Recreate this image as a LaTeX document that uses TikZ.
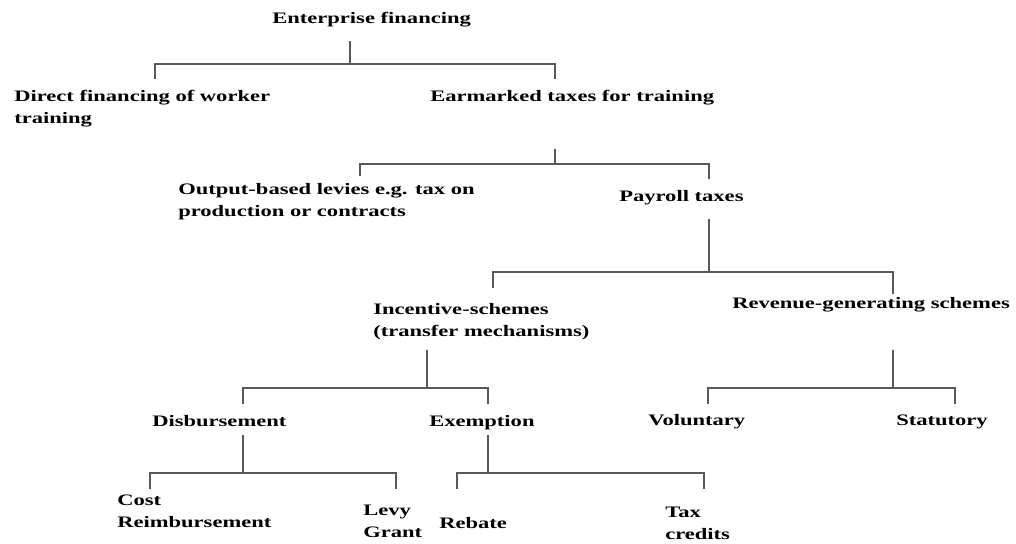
\documentclass[tikz,border=0pt]{standalone}
\usepackage{fontspec}
\setmainfont{Liberation Serif}[FakeStretch=1.41]
\usetikzlibrary{calc}

\begin{document}
\begin{tikzpicture}[x=0.75pt, y=-0.75pt,
	txt/.style={anchor=base west, inner sep=0pt, align=left, font=\fontsize{12}{16.5}\selectfont\bfseries},
	branch/.style={draw=black!65, line width=0.9pt}]
	
	\useasboundingbox (0,0) rectangle (1016,543);
	
	% texts (base = last line)
	\node[txt] (ef) at (272,23) {Enterprise financing};
	\node[txt] (df) at (14,123) {Direct financing of worker\\training};
	\node[txt] (et) at (430,101) {Earmarked taxes for training};
	\node[txt] (ob) at (178,216) {Output-based levies e.g. tax on\\production or contracts};
	\node[txt] (pt) at (619,201) {Payroll taxes};
	\node[txt] (is) at (373,336) {Incentive-schemes\\(transfer mechanisms)};
	\node[txt] (rg) at (732,308) {Revenue-generating schemes};
	\node[txt] (db) at (152,426) {Disbursement};
	\node[txt] (ex) at (429,426) {Exemption};
	\node[txt] (vo) at (648,425) {Voluntary};
	\node[txt] (st) at (896,425) {Statutory};
	\node[txt] (cr) at (117,527) {Cost\\Reimbursement};
	\node[txt] (lg) at (363,537) {Levy\\Grant};
	\node[txt] (rb) at (439,528) {Rebate};
	\node[txt] (tc) at (665,539) {Tax\\credits};
	
	% stem tops and bar middles
	\coordinate (ef-s) at (350,41);  \coordinate (ef-b) at (350,64);
	\coordinate (et-s) at (555,149); \coordinate (et-b) at (555,164);
	\coordinate (pt-s) at (709,219); \coordinate (pt-b) at (709,272);
	\coordinate (is-s) at (427,350); \coordinate (is-b) at (427,388);
	\coordinate (rg-s) at (893,350); \coordinate (rg-b) at (893,388);
	\coordinate (db-s) at (243,435); \coordinate (db-b) at (243,473);
	\coordinate (ex-s) at (488,435); \coordinate (ex-b) at (488,473);
	
	% drop ends
	\coordinate (df-d) at (155,79);  \coordinate (et-d) at (555,79);
	\coordinate (ob-d) at (360,176); \coordinate (pt-d) at (709,179);
	\coordinate (is-d) at (493,288); \coordinate (rg-d) at (893,294);
	\coordinate (db-d) at (243,404); \coordinate (ex-d) at (488,404);
	\coordinate (vo-d) at (708,404); \coordinate (st-d) at (955,404);
	\coordinate (cr-d) at (150,489); \coordinate (lg-d) at (396,489);
	\coordinate (rb-d) at (457,489); \coordinate (tc-d) at (704,489);
	
	\foreach \p/\a/\b in {ef/df/et, et/ob/pt, pt/is/rg, is/db/ex, rg/vo/st, db/cr/lg, ex/rb/tc}
	\draw[branch] (\p-s) -- (\p-b) -| (\a-d) (\p-b) -| (\b-d);
	
\end{tikzpicture}
\end{document}
